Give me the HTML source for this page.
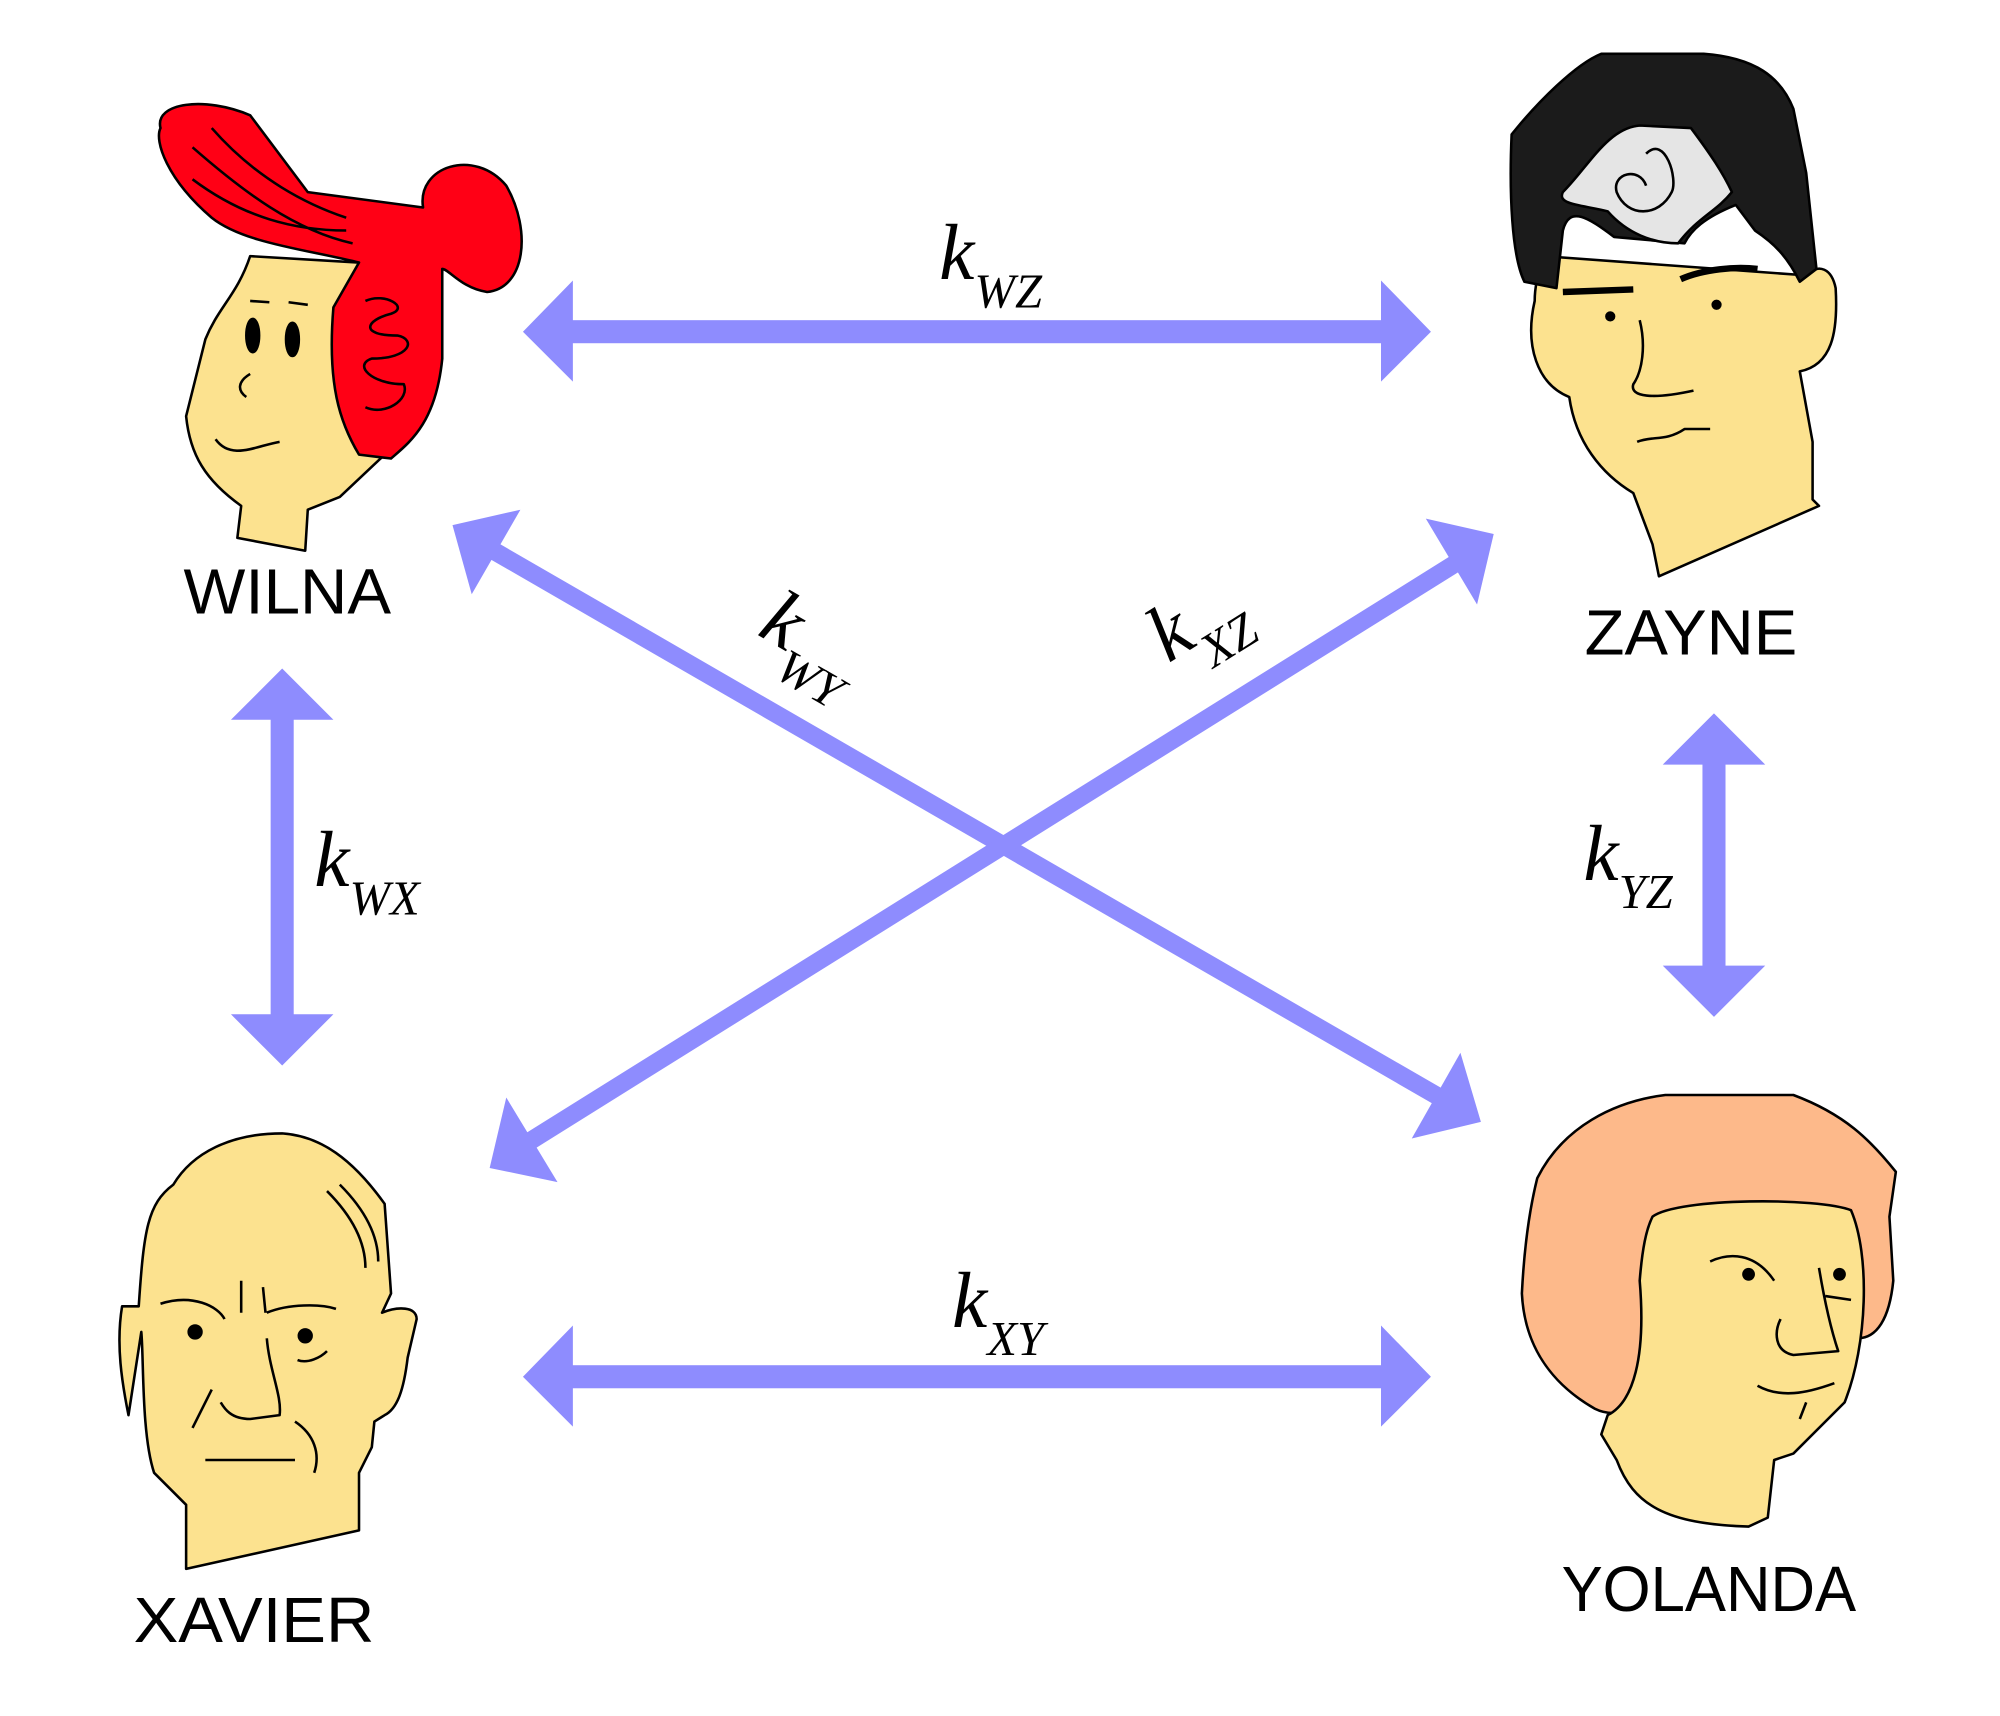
<!DOCTYPE html>
<html><head><meta charset="utf-8"><style>html,body{margin:0;padding:0;background:#fff}</style></head>
<body>
<svg width="2000" height="1711" viewBox="0 0 1561 1336" xmlns="http://www.w3.org/2000/svg">
<g fill="#8e8cfe" stroke="none">
<rect x="445" y="250" width="635" height="18"/>
<polygon points="408,259 447,219 447,298"/><polygon points="1117,259 1078,219 1078,298"/>
<rect x="445" y="1066" width="635" height="18"/>
<polygon points="408,1075 447,1035 447,1114"/><polygon points="1117,1075 1078,1035 1078,1114"/>
<rect x="211" y="560" width="18" height="234"/>
<polygon points="220,522 180,562 260,562"/><polygon points="220,832 180,792 260,792"/>
<rect x="1329" y="595" width="18" height="161"/>
<polygon points="1338,557 1298,597 1378,597"/><polygon points="1338,794 1298,754 1378,754"/>
<polygon points="353,410 368,464 406,398"/><polygon points="1156,876 1140,822 1102,889"/>
<polygon points="382,912 395,857 435,923"/><polygon points="1166,417 1113,405 1153,472"/>
</g>
<g stroke="#8e8cfe" stroke-width="14" fill="none">
<line x1="385" y1="430" x2="1124" y2="857"/>
<line x1="412" y1="892" x2="1136" y2="440"/>
</g>
<g font-family="Liberation Serif, serif" font-style="italic" fill="#000">
<text x="733" y="218" font-size="62">k<tspan font-size="38" dy="22">WZ</tspan></text>
<text x="743" y="1036" font-size="62">k<tspan font-size="38" dy="22">XY</tspan></text>
<text x="245" y="692" font-size="62">k<tspan font-size="38" dy="22">WX</tspan></text>
<text x="1236" y="687" font-size="62">k<tspan font-size="38" dy="22">YZ</tspan></text>
<text transform="translate(590,495) rotate(30)" font-size="62">k<tspan font-size="38" dy="22">WY</tspan></text>
<text transform="translate(912,518) rotate(-32)" font-size="62">k<tspan font-size="38" dy="22">XZ</tspan></text>
</g>
<g font-family="Liberation Sans, sans-serif" font-size="50" fill="#000">
<text x="143" y="479" textLength="162" lengthAdjust="spacingAndGlyphs" transform="translate(143,479) scale(0.3,1) translate(-143,-479)" style="display:none">WILNA</text>
</g>
<g font-family="Liberation Sans, sans-serif" font-size="50" fill="#000" stroke="none">
<text x="143" y="479" textLength="162" lengthAdjust="spacingAndGlyphs">WILNA</text>
<text x="1237" y="511" textLength="166" lengthAdjust="spacingAndGlyphs">ZAYNE</text>
<text x="104" y="1282" textLength="188" lengthAdjust="spacingAndGlyphs">XAVIER</text>
<text x="1219" y="1258" textLength="230" lengthAdjust="spacingAndGlyphs">YOLANDA</text>
</g>
<g stroke="#000" stroke-width="2" stroke-linejoin="round">
<path fill="#fce28f" d="M195,200 L280,205 L262,240 C255,300 265,330 282,355 L300,355 L265,388 L240,398 L238,430 L185,420 L188,395 C160,375 148,355 145,325 L160,265 C170,240 185,230 195,200Z"/>
<path fill="#ff0015" d="M125,100 C120,80 160,75 195,90 L240,150 L330,162 C325,130 370,115 395,145 C415,180 410,225 380,228 C360,225 350,210 345,210 L345,280 C340,330 320,345 305,358 L280,355 C265,330 255,300 260,240 L280,205 C240,195 190,190 165,170 C130,140 120,110 125,100Z"/>
<path fill="none" d="M150,115 C190,150 230,180 275,190 M165,100 C200,140 240,160 270,170 M150,140 C190,170 230,180 270,180 M285,235 C300,228 320,240 305,245 C285,250 280,262 310,262 C325,265 320,280 290,280 C275,285 290,300 315,300 C320,312 300,325 285,318 M195,235 L210,236 M225,236 L240,238 M195,292 C185,298 185,305 192,310 M168,343 C180,360 200,348 218,345"/>
<ellipse cx="197" cy="262" rx="5" ry="13" fill="#000"/><ellipse cx="228" cy="265" rx="5" ry="13" fill="#000"/>
<path fill="#fce28f" d="M1198,235 C1190,270 1200,300 1225,310 C1230,345 1250,370 1275,385 L1290,425 L1295,450 L1420,395 L1415,390 L1415,345 L1405,290 C1430,285 1435,260 1433,225 C1430,210 1420,205 1410,215 L1205,200 C1200,215 1198,225 1198,235Z"/>
<path fill="#1b1b1b" d="M1180,105 C1200,80 1230,50 1250,42 L1330,42 C1370,45 1390,60 1400,85 L1410,135 L1418,210 L1405,220 C1395,200 1385,190 1370,180 L1355,160 C1330,170 1320,180 1315,190 L1260,185 C1240,170 1225,160 1220,180 L1215,225 L1190,220 C1180,200 1178,150 1180,105Z"/>
<path fill="#e5e5e5" d="M1220,150 C1240,130 1255,100 1280,98 L1320,100 C1335,120 1345,135 1352,150 C1340,165 1325,170 1310,190 C1290,190 1270,182 1255,165 C1235,160 1215,160 1220,150Z"/>
<path fill="none" d="M1285,120 C1300,105 1310,140 1305,150 C1295,170 1270,170 1262,150 C1258,135 1280,130 1285,145"/>
<path fill="none" stroke-width="5" d="M1220,228 L1275,226 M1312,218 C1330,210 1355,208 1372,210"/>
<path fill="none" d="M1280,250 C1285,270 1282,290 1275,300 C1272,310 1290,312 1322,305 M1278,345 C1290,340 1300,345 1315,335 L1335,335"/>
<circle cx="1257" cy="247" r="3" fill="#000"/><circle cx="1340" cy="238" r="3" fill="#000"/>
<path fill="#fce28f" d="M135,925 C150,900 180,885 220,885 C250,887 275,905 300,940 L305,1010 L298,1025 C310,1020 325,1020 325,1030 L318,1060 C315,1085 310,1100 300,1105 L292,1110 L290,1130 L280,1150 L280,1195 L145,1225 L145,1175 L120,1150 C110,1120 112,1060 110,1040 L100,1105 C95,1080 90,1050 95,1020 L108,1020 C112,960 115,940 135,925Z"/>
<path fill="none" d="M255,930 C275,950 285,970 285,990 M265,925 C285,945 295,965 295,985 M125,1018 C150,1010 170,1020 175,1030 M208,1025 C225,1018 250,1018 262,1022 M208,1045 C210,1070 220,1090 218,1105 L195,1108 C180,1108 175,1100 172,1095 M165,1085 L150,1115 M160,1140 L230,1140 M230,1110 C245,1120 250,1135 245,1150 M232,1062 C240,1065 250,1060 255,1055 M188,1000 L188,1025 M205,1005 L207,1025"/>
<circle cx="152" cy="1040" r="5" fill="#000"/><circle cx="238" cy="1043" r="5" fill="#000"/>
<path fill="#fdb98a" d="M1200,920 C1220,880 1260,860 1300,855 L1400,855 C1440,870 1460,890 1480,915 L1475,950 L1478,1000 C1475,1030 1465,1045 1450,1045 L1280,1095 C1270,1105 1255,1105 1245,1100 C1210,1080 1190,1050 1188,1010 C1190,970 1195,940 1200,920Z"/>
<path fill="#fce28f" d="M1290,950 C1310,935 1420,935 1445,945 C1460,980 1458,1050 1440,1095 L1400,1135 L1385,1140 L1380,1185 L1365,1192 C1300,1190 1275,1175 1262,1140 L1250,1120 L1255,1105 C1275,1095 1285,1060 1280,1000 C1282,975 1285,960 1290,950Z"/>
<path fill="none" d="M1335,985 C1350,978 1370,978 1385,1000 M1420,990 C1425,1020 1430,1040 1435,1055 L1400,1058 C1385,1055 1385,1040 1390,1030 M1372,1082 C1390,1092 1410,1088 1432,1080 M1410,1095 L1405,1108 M1425,1012 L1445,1015"/>
<circle cx="1365" cy="995" r="4" fill="#000"/><circle cx="1436" cy="995" r="4" fill="#000"/>
</g>
</svg>
</body></html>
